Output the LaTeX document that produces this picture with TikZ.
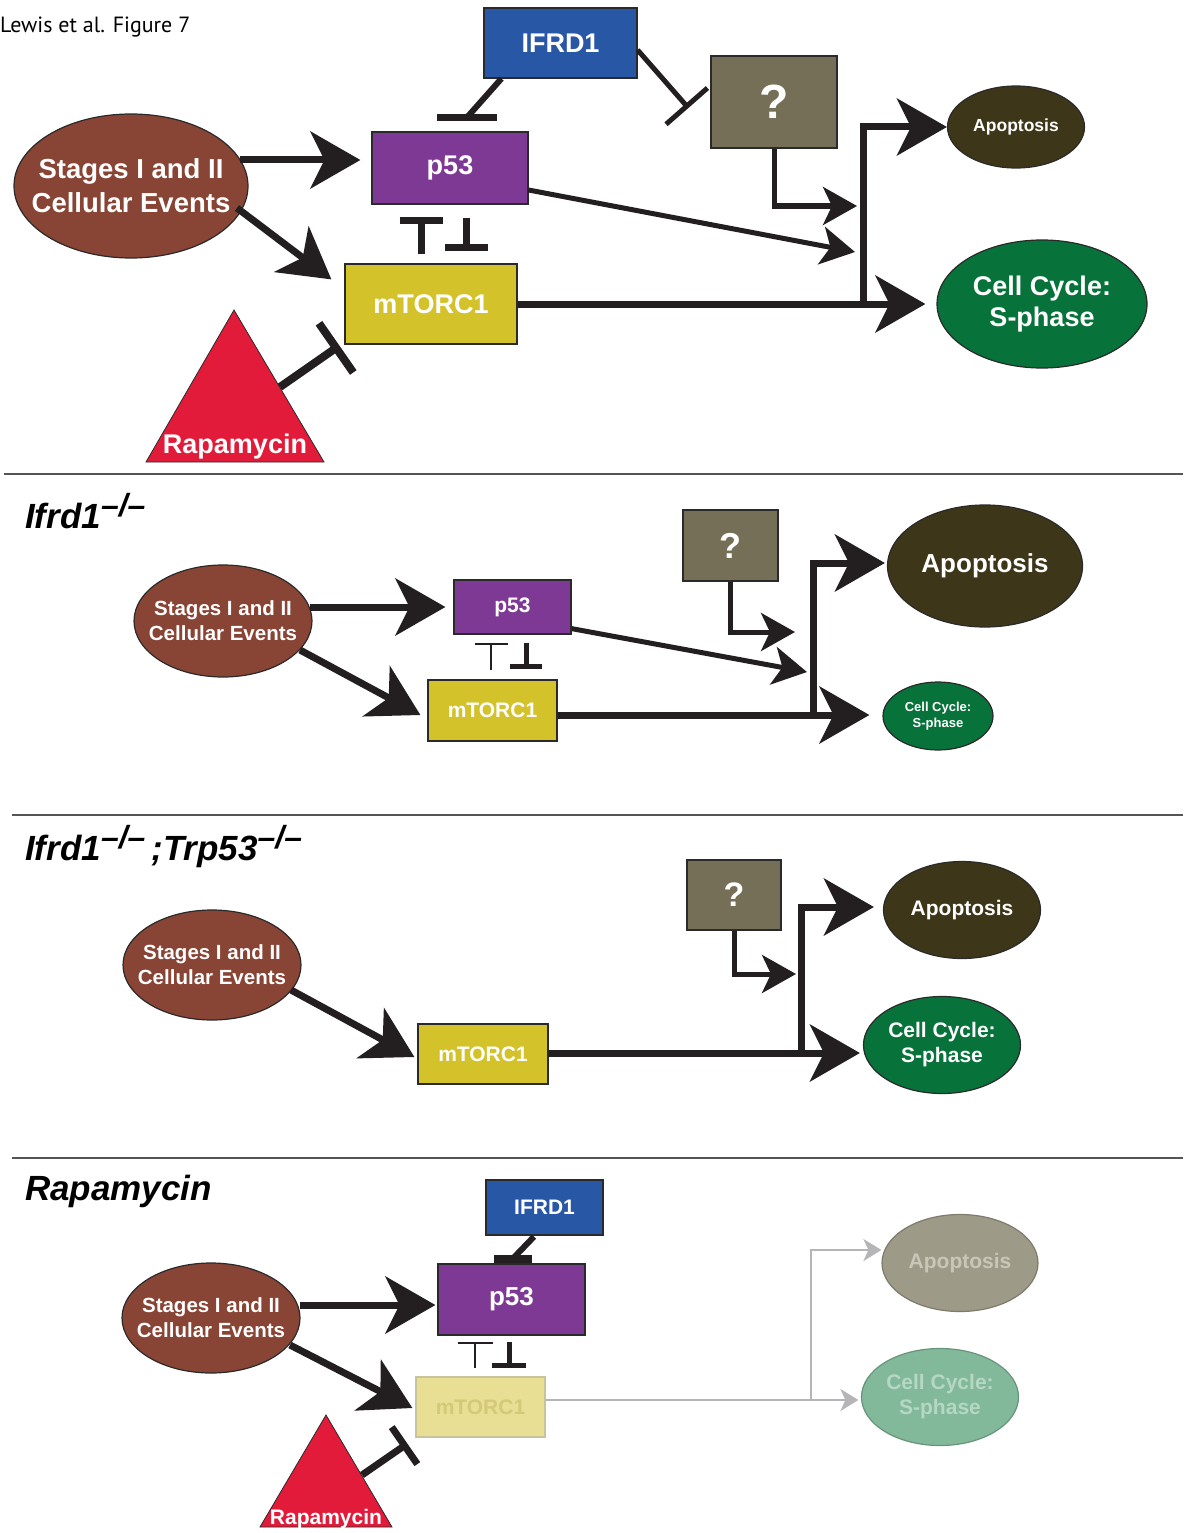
\documentclass[tikz,border=0pt]{standalone}
\usepackage{fontspec}
\setmainfont{Liberation Sans}
\newfontfamily\headfont{PT Sans}
\usetikzlibrary{arrows.meta,shapes.geometric,calc}

\definecolor{ifrdblue}{HTML}{2757A5}
\definecolor{unkgray}{HTML}{766F57}
\definecolor{ppurple}{HTML}{7E3995}
\definecolor{mtoryel}{HTML}{D4C22A}
\definecolor{stagebrown}{HTML}{884434}
\definecolor{apodark}{HTML}{3D3618}
\definecolor{cyclegreen}{HTML}{07723A}
\definecolor{rapared}{HTML}{E31B3A}
\definecolor{ink}{HTML}{231F20}
\definecolor{edge}{HTML}{2A2A2A}
\definecolor{fadeyel}{HTML}{E8DF95}
\definecolor{fadeyeledge}{HTML}{C9C39A}
\definecolor{fadeyeltxt}{HTML}{D3C977}
\definecolor{fadeapo}{HTML}{9E9A88}
\definecolor{fadeapotxt}{HTML}{C9C6B8}
\definecolor{fadegreen}{HTML}{82B99A}
\definecolor{fadegreentxt}{HTML}{B5D7C3}
\definecolor{fadeline}{HTML}{B5B5B8}
\definecolor{rulegray}{HTML}{555555}

\newcommand\fsz[2]{\fontsize{#1}{#2}\selectfont}
% genotype superscript for knockout alleles
\newcommand\koallele{\raisebox{12pt}{\fsz{32}{32}–/–}}

\begin{document}
\begin{tikzpicture}[x=1pt,y=-1pt,
  box/.style={draw=edge,line width=1.2pt,inner sep=0pt,text=white,align=center},
  oval/.style={ellipse,draw=edge,line width=1.2pt,inner xsep=-40pt,inner ysep=-20pt,text=white,align=center},
  act/.style={draw=ink,line width=7pt,-{Stealth[length=50pt,width=57pt,inset=14pt]}},
  actmid/.style={draw=ink,line width=5pt,-{Stealth[length=34pt,width=38pt,inset=9pt]}},
  fadeact/.style={draw=fadeline,line width=2pt,-{Stealth[length=18pt,width=22pt,inset=5pt]}},
  divider/.style={draw=rulegray,line width=2pt},
  title/.style={anchor=base west,inner sep=0pt,font=\fsz{35}{40}\bfseries\itshape},
]
\useasboundingbox (0,0) rectangle (1183,1533);

%% ---------- Panel: wild type ----------
\node[anchor=base west,inner sep=0pt,font=\headfont\fsz{22}{26}] (hdr) at (0,33) {Lewis et al. Figure 7};

\node[box,fill=ifrdblue,minimum width=153pt,minimum height=70pt,font=\bfseries\fsz{27}{32}] (ifrdA) at (560.5,43) {IFRD1};
\node[box,fill=unkgray,minimum width=126pt,minimum height=92pt,font=\bfseries\fsz{48}{52}] (qA) at (774,102) {?};
\node[box,fill=ppurple,minimum width=156pt,minimum height=72pt,font=\bfseries\fsz{27}{32}] (p53A) at (450,168) {p53};
\node[box,fill=mtoryel,minimum width=172pt,minimum height=80pt,font=\bfseries\fsz{27}{32}] (mtorA) at (431,304) {mTORC1};
\node[oval,fill=stagebrown,minimum width=234pt,minimum height=144pt,font=\bfseries\fsz{27.5}{34}] (stagesA) at (131,186) {Stages I and II\\Cellular Events};
\node[oval,fill=apodark,minimum width=137pt,minimum height=82pt,font=\bfseries\fsz{17.5}{20}] (apoA) at (1016,127) {Apoptosis};
\node[oval,fill=cyclegreen,minimum width=210pt,minimum height=128pt,font=\bfseries\fsz{27}{31}] (cellA) at (1042,304) {Cell Cycle:\\S-phase};

\filldraw[fill=rapared,draw=edge,line width=0.8pt] (234,310) -- (324,462) -- (146,462) -- cycle;
\node[anchor=base,inner sep=0pt,text=white,font=\bfseries\fsz{27}{30}] (rapaA) at (235,453) {Rapamycin};
\coordinate (rapaAedge) at (280,387);

\draw[act] ($(stagesA.center)+(109,-26)$) -- ($(p53A.west)+(-11,-8)$);
\draw[act] ($(stagesA.center)+(106,22)$) -- ($(mtorA.north west)+(-13,16)$);
\draw[ink,line width=6pt] ($(ifrdA.south west)+(18,0)$) -- ($(p53A.north)+(17,-14)$);
\draw[ink,line width=7pt] ($(p53A.north)+(-13,-14)$) -- ($(p53A.north)+(47,-14)$);
\draw[ink,line width=5pt,-{Bar[width=55pt]}] ($(ifrdA.east)+(0,7)$) -- ($(qA.west)+(-22,6)$);
\draw[ink,line width=7pt,-{Bar[width=43pt]}] ($(mtorA.north)+(-10,-9)$) -- ($(p53A.south)+(-29,12)$);
\draw[ink,line width=7pt,-{Bar[width=43pt]}] ($(p53A.south)+(16,13)$) -- ($(mtorA.north)+(35,-12)$);
\draw[ink,line width=8pt,-{Bar[width=60pt]}] (rapaAedge) -- ($(mtorA.south west)+(-5,1)$);

\coordinate (inA1) at (855,252);
\coordinate (inA2) at (857,206);
\coordinate (jA) at (863,304);
\draw[actmid] ($(p53A.east)+(0,22)$) -- (inA1);
\draw[actmid] (qA.south) |- (inA2);
\draw[act] (mtorA.east) -- ($(cellA.west)+(-11,0)$);
\draw[act] (jA) |- (apoA.west);

\draw[divider] (4,474) -- (1183,474);

%% ---------- Panel: Ifrd1 knockout ----------
\node[title] (ttlB) at (25,528) {Ifrd1\koallele};

\node[oval,fill=stagebrown,minimum width=178pt,minimum height=112pt,font=\bfseries\fsz{20.5}{25}] (stagesB) at (223,621) {Stages I and II\\Cellular Events};
\node[box,fill=ppurple,minimum width=117pt,minimum height=54pt,font=\bfseries\fsz{21}{25}] (p53B) at (512.5,607) {p53};
\node[box,fill=mtoryel,minimum width=129pt,minimum height=61pt,font=\bfseries\fsz{21}{25}] (mtorB) at (492.5,710.5) {mTORC1};
\node[box,fill=unkgray,minimum width=95pt,minimum height=71pt,font=\bfseries\fsz{36}{40}] (qB) at (730.5,545.5) {?};
\node[oval,fill=apodark,minimum width=195pt,minimum height=122pt,font=\bfseries\fsz{26}{30}] (apoB) at (985,566) {Apoptosis};
\node[oval,fill=cyclegreen,minimum width=110pt,minimum height=68pt,font=\bfseries\fsz{13}{16}] (cellB) at (938,716) {Cell Cycle:\\S-phase};

\draw[act] ($(stagesB.center)+(87,-14)$) -- ($(p53B.west)+(-8,0)$);
\draw[act] ($(stagesB.center)+(77,29)$) -- ($(mtorB.west)+(-7,4.5)$);
\draw[ink,line width=2pt,-{Bar[width=33pt]}] ($(mtorB.north)+(-1.5,-9)$) -- ($(p53B.south)+(-21.5,8)$);
\draw[ink,line width=5pt,-{Bar[width=32pt]}] ($(p53B.south)+(13.5,8)$) -- ($(mtorB.north)+(33.5,-10)$);

\coordinate (inB1) at (807,672);
\coordinate (inB2) at (795,632);
\coordinate (jB) at (813,715);
\draw[actmid] ($(p53B.south east)+(0,-6)$) -- (inB1);
\draw[actmid] (qB.south) |- (inB2);
\draw[act] ($(mtorB.east)+(0,4.5)$) -- ($(cellB.west)+(-13,-1)$);
\draw[act] (jB) |- ($(apoB.west)+(-2,-3)$);

\draw[divider] (12,815) -- (1183,815);

%% ---------- Panel: Ifrd1;Trp53 double knockout ----------
\node[title] (ttlC) at (25,860) {Ifrd1\koallele\,;Trp53\koallele};

\node[oval,fill=stagebrown,minimum width=178pt,minimum height=110pt,font=\bfseries\fsz{20.5}{25}] (stagesC) at (212,965) {Stages I and II\\Cellular Events};
\node[box,fill=mtoryel,minimum width=130pt,minimum height=60pt,font=\bfseries\fsz{21}{25}] (mtorC) at (483,1054) {mTORC1};
\node[box,fill=unkgray,minimum width=94pt,minimum height=70pt,font=\bfseries\fsz{34}{38}] (qC) at (734,895) {?};
\node[oval,fill=apodark,minimum width=157pt,minimum height=97pt,font=\bfseries\fsz{21}{25}] (apoC) at (962,910) {Apoptosis};
\node[oval,fill=cyclegreen,minimum width=157pt,minimum height=97pt,font=\bfseries\fsz{21}{25}] (cellC) at (942,1045) {Cell Cycle:\\S-phase};

\coordinate (inC2) at (796,974);
\coordinate (jC) at (801,1053);
\draw[act] ($(stagesC.center)+(79,25)$) -- ($(mtorC.west)+(-3,3)$);
\draw[act] ($(mtorC.east)+(0,-1)$) -- ($(cellC.west)+(-3,8)$);
\draw[act] (jC) |- ($(apoC.west)+(-9,-3)$);
\draw[actmid] (qC.south) |- (inC2);

\draw[divider] (12,1158) -- (1183,1158);

%% ---------- Panel: Rapamycin treatment ----------
\node[title] (ttlD) at (25,1200) {Rapamycin};

\node[box,fill=ifrdblue,minimum width=117pt,minimum height=55pt,font=\bfseries\fsz{21}{25}] (ifrdD) at (544.5,1207.5) {IFRD1};
\node[box,fill=ppurple,minimum width=147pt,minimum height=71pt,font=\bfseries\fsz{26}{30}] (p53D) at (511.5,1299.5) {p53};
\node[box,fill=fadeyel,draw=fadeyeledge,text=fadeyeltxt,minimum width=129pt,minimum height=60pt,font=\bfseries\fsz{21}{25}] (mtorD) at (480.5,1407) {mTORC1};
\node[oval,fill=stagebrown,minimum width=178pt,minimum height=110pt,font=\bfseries\fsz{20.5}{25}] (stagesD) at (211,1318) {Stages I and II\\Cellular Events};
\node[oval,fill=fadeapo,draw=fadeapo!80!black,text=fadeapotxt,minimum width=156pt,minimum height=97pt,font=\bfseries\fsz{21}{25}] (apoD) at (960,1263) {Apoptosis};
\node[oval,fill=fadegreen,draw=fadegreen!80!black,text=fadegreentxt,minimum width=157pt,minimum height=97pt,font=\bfseries\fsz{21}{25}] (cellD) at (940,1397) {Cell Cycle:\\S-phase};

\filldraw[fill=rapared,draw=edge,line width=0.8pt] (326,1415) -- (392,1527) -- (260,1527) -- cycle;
\node[anchor=base,inner sep=0pt,text=white,font=\bfseries\fsz{21}{25}] (rapaD) at (326,1524) {Rapamycin};
\coordinate (rapaDedge) at (362,1475);

\draw[act] ($(stagesD.center)+(89,-13)$) -- ($(p53D.west)+(-2,5.5)$);
\draw[act] ($(stagesD.center)+(79,27)$) -- ($(mtorD.west)+(-3,1)$);
\draw[ink,line width=6pt] ($(ifrdD.south)+(-10.5,1)$) -- ($(p53D.north)+(1.5,-5)$);
\draw[ink,line width=8pt] ($(p53D.north)+(-17.5,-4)$) -- ($(p53D.north)+(20.5,-4)$);
\draw[ink,line width=2pt,-{Bar[width=35pt]}] ($(mtorD.north)+(-5.5,-8)$) -- ($(p53D.south)+(-36.5,6)$);
\draw[ink,line width=5pt,-{Bar[width=34pt]}] ($(p53D.south)+(-2.5,6)$) -- ($(mtorD.north)+(28.5,-8)$);
\draw[ink,line width=7pt,-{Bar[width=45pt]}] (rapaDedge) -- ($(mtorD.south west)+(-8,6)$);

\coordinate (jD) at (811,1400);
\draw[fadeact] ($(mtorD.east)+(0,-7)$) -- ($(cellD.west)+(-2.5,3)$);
\draw[fadeact] (jD) |- ($(apoD.west)+(0,-13)$);

\end{tikzpicture}
\end{document}
